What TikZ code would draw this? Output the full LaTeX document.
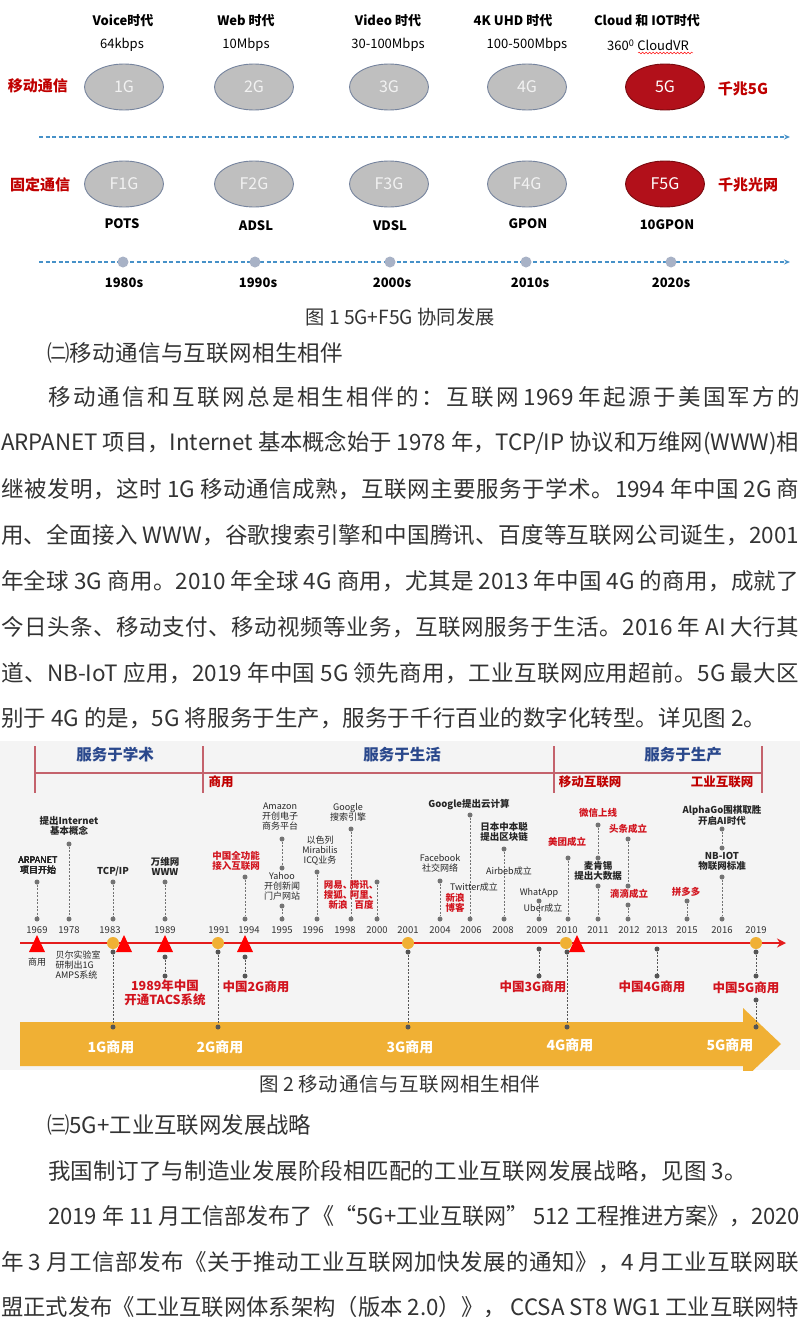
\documentclass[tikz,border=0pt]{standalone}
\usepackage{fontspec}
\setmainfont{Noto Sans CJK SC}
\usepackage{graphicx}
\usetikzlibrary{arrows.meta,shapes.geometric,decorations.pathmorphing,positioning}
\definecolor{gengray}{RGB}{191,191,191}
\definecolor{genline}{RGB}{118,132,158}
\definecolor{genred}{RGB}{178,16,26}
\definecolor{genredline}{RGB}{120,10,15}
\definecolor{labred}{RGB}{192,0,0}
\definecolor{dashblue}{RGB}{70,145,200}
\definecolor{dotgray}{RGB}{168,178,198}
\definecolor{figbg}{RGB}{244,244,244}
\definecolor{brack}{RGB}{196,98,108}
\definecolor{phaseblue}{RGB}{42,72,140}
\definecolor{lineRed}{RGB}{228,28,28}
\definecolor{gold}{RGB}{240,176,52}
\definecolor{stemgray}{RGB}{115,115,115}
\definecolor{stemdark}{RGB}{85,85,85}
\definecolor{evred}{RGB}{210,20,30}
% stretchable glue between CJK characters, used in \jline only
\newXeTeXintercharclass\cjkcls
\makeatletter
\count@="2E80
\loop\ifnum\count@<"A000 \XeTeXcharclass\count@=\cjkcls \advance\count@ by 1 \repeat
\count@="FF00
\loop\ifnum\count@<"FFF0 \XeTeXcharclass\count@=\cjkcls \advance\count@ by 1 \repeat
\makeatother
\XeTeXinterchartoks\cjkcls\cjkcls={\hskip0pt plus 1fil\relax}
\XeTeXinterchartoks\cjkcls 0={\hskip0pt plus 1fil\relax}
\XeTeXinterchartoks 0\cjkcls={\hskip0pt plus 1fil\relax}
\tikzset{>=stealth}
\newsavebox\linebox
\newcommand\jline[2]{\sbox\linebox{#2}%
  \ifdim\wd\linebox>#1\relax\resizebox{#1}{\height}{\usebox\linebox}%
  \else\makebox[#1][s]{\XeTeXinterchartokenstate=1 #2}\fi}
\newcommand\redtri[1]{\fill[red] (#1-8,952) -- (#1,935) -- (#1+8,952) -- cycle;}
\tikzset{
  gen/.style={ellipse, draw=genline, line width=0.9pt, fill=gengray,
    minimum width=79pt, minimum height=46pt, text=white!95!black,
    font=\fontsize{16}{16}\selectfont},
  gen5/.style={gen, fill=genred, draw=genredline, text=white},
  era/.style={font=\bfseries\fontsize{13}{13}\selectfont, inner sep=1pt},
  rate/.style={font=\fontsize{13}{13}\selectfont, inner sep=1pt},
  net/.style={font=\bfseries\fontsize{15}{15}\selectfont, text=labred},
  dashline/.style={dashblue, line width=1.3pt, dash pattern=on 4pt off 2.5pt,
    -{Stealth[length=6pt,width=5pt]}},
  body/.style={font=\fontsize{22.5}{24}\selectfont, inner sep=0pt, text=black!80},
  figcap/.style={font=\fontsize{19.5}{20}\selectfont, inner sep=0pt, text=black!80},
  phase/.style={font=\bfseries\fontsize{15.5}{16}\selectfont, text=phaseblue},
  stage/.style={font=\bfseries\fontsize{12.5}{13}\selectfont, text=labred},
  brackline/.style={brack, line width=1.8pt},
  yr/.style={font=\fontsize{9.5}{10}\selectfont, text=black!80, inner sep=1pt},
  dot/.style={circle, fill=stemgray, inner sep=0pt, minimum size=5pt},
  ddot/.style={dot, fill=stemdark},
  stem/.style={draw=stemgray, dash pattern=on 2pt off 1.5pt, line width=0.8pt},
  dstem/.style={stem, draw=stemdark},
  ev/.style={font=\fontsize{9}{10}\selectfont, align=center, text=black!85, inner sep=0.5pt},
  evb/.style={ev, font=\bfseries\fontsize{9.5}{10}\selectfont},
  evr/.style={evb, text=evred},
  big/.style={font=\bfseries\fontsize{12.5}{13.5}\selectfont, text=evred, align=center},
  golddot/.style={circle, fill=gold, inner sep=0pt, minimum size=12pt},
  bandtxt/.style={font=\bfseries\fontsize{14}{14}\selectfont, text=white}
}
\begin{document}
\begin{tikzpicture}[x=1pt,y=-1pt]
    \fill[white] (0,0) rectangle (800,1317);
    \useasboundingbox (0,0) rectangle (800,1317);
    % Figure 1
    \foreach \g/\x in {1/124,2/254,3/389,4/527}{
        \node[gen] (m\g) at (\x,87) {\g G};
        \node[gen] (f\g) at (\x,184) {F\g G};
    }
    \node[gen5] (m5) at (665,87) {5G};
    \node[gen5] (f5) at (665,184) {F5G};
    \node[era] (e1) at (123,21) {Voice时代};
    \node[rate] (r1) at (122,45) {64kbps};
    \node[era] (e2) at (246,21) {Web 时代};
    \node[rate] (r2) at (246,45) {10Mbps};
    \node[era] (e3) at (388,21) {Video 时代};
    \node[rate] (r3) at (388,45) {30-100Mbps};
    \node[era] (e4) at (513,21) {4K UHD 时代};
    \node[rate] (r4) at (527,45) {100-500Mbps};
    \node[era] (e5) at (647,21) {Cloud 和 IOT时代};
    \node[rate] (r5) at (648,45) {360\textsuperscript{0} CloudVR};
    \draw[red, decorate, decoration={snake, amplitude=0.9pt, segment length=3.5pt}]
        (638,53) -- (693,53);
    \node[net] (mob) at (38,86) {移动通信};
    \node[net] (fix) at (40,185) {固定通信};
    \node[net] (g5) at (743,89) {千兆5G};
    \node[net] (g5f) at (748,185) {千兆光网};
    \coordinate (a1) at (39,137);
    \coordinate (a2) at (790,137);
    \draw[dashline] (a1) -- (a2);
    \coordinate (b1) at (39,262);
    \coordinate (b2) at (790,262);
    \draw[dashline] (b1) -- (b2);
    \foreach \n/\t/\x/\y in {1/POTS/122/224,2/ADSL/256/226,3/VDSL/390/226,4/GPON/528/224,5/10GPON/667/225}
        \node[era] (o\n) at (\x,\y) {\t};
    \foreach \d/\x/\lx in {1980/123/124,1990/255/258,2000/390/392,2010/526/530,2020/671/671}{
        \node[circle, fill=dotgray, inner sep=0pt, minimum size=11pt] (c\d) at (\x,262) {};
        \node[era] (s\d) at (\lx,283) {\d s};
    }
    % text
    \node[figcap] (cap1) at (400,317) {\jline{189pt}{图 1 5G+F5G 协同发展}};
    \node[body, anchor=west] (hd1) at (47,353) {\jline{296pt}{㈡移动通信与互联网相生相伴}};
    \node[body, anchor=west] (t1) at (48,397) {\jline{752pt}{移动通信和互联网总是相生相伴的：互联网 1969 年起源于美国军方的}};
    \node[body, anchor=west] (t2) at (1,443) {\jline{798pt}{ARPANET 项目，Internet 基本概念始于 1978 年，TCP/IP 协议和万维网(WWW)相}};
    \node[body, anchor=west] (t3) at (1,489) {\jline{798pt}{继被发明，这时 1G 移动通信成熟，互联网主要服务于学术。1994 年中国 2G 商}};
    \node[body, anchor=west] (t4) at (1,535) {\jline{798pt}{用、全面接入 WWW，谷歌搜索引擎和中国腾讯、百度等互联网公司诞生，2001}};
    \node[body, anchor=west] (t5) at (1,581) {\jline{798pt}{年全球 3G 商用。2010 年全球 4G 商用，尤其是 2013 年中国 4G 的商用，成就了}};
    \node[body, anchor=west] (t6) at (1,627) {\jline{798pt}{今日头条、移动支付、移动视频等业务，互联网服务于生活。2016 年 AI 大行其}};
    \node[body, anchor=west] (t7) at (1,673) {\jline{798pt}{道、NB-IoT 应用，2019 年中国 5G 领先商用，工业互联网应用超前。5G 最大区}};
    \node[body, anchor=west] (t8) at (1,718) {\jline{765pt}{别于 4G 的是，5G 将服务于生产，服务于千行百业的数字化转型。详见图 2。}};
    % Figure 2
    \fill[figbg] (0,741) rectangle (800,1070);
    \begin{scope}
        \clip (0,741) rectangle (800,1070);
        \fill[gold] (20,1022) -- (743,1022) -- (743,1008) -- (781,1044)
            -- (743,1080) -- (743,1066) -- (20,1066) -- cycle;
    \end{scope}
    \draw[brackline] (35,773) -- (762,773);
    \foreach \x in {35,203,554,762}
        \draw[brackline] (\x,746) -- (\x,793);
    \node[phase] (ph1) at (115,755) {服务于学术};
    \node[phase] (ph2) at (402,755) {服务于生活};
    \node[phase] (ph3) at (683,755) {服务于生产};
    \node[stage] (st1) at (221,782) {商用};
    \node[stage] (st2) at (590,782) {移动互联网};
    \node[stage] (st3) at (722,782) {工业互联网};
    \coordinate (tl0) at (20,943);
    \coordinate (tl1) at (786,943);
    \draw[line width=2.2pt, lineRed, -{Stealth[length=9pt,width=9pt]}] (tl0) -- (tl1);
    \foreach \y/\x in {1969/37,1978/69,1983/110,1989/165,1991/219,1994/249,1995/282,1996/313,1998/345,2000/377,2001/408,2004/440,2006/471,2008/503,2009/537,2010/567,2011/598,2012/629,2013/657,2015/687,2016/722,2019/756}
        \node[yr] (y\y) at (\x,930) {\y};
    % stems above the line
    \foreach \n/\x/\ya/\yb in {69/37/882/919,78/69/844/919,83/113/882/919,89/165/882/919,94/245/877/919,95a/282/839/868,95b/282/906/919,96/317/872/919,98/351/829/919,00/377/882/919,04/440/881/919,06/470/815/919,08/504/849/919,09/539/901/919,10/568/858/919,11a/598/825/858,11b/598/886/919,12a/628/839/886,12b/628/905/919,15/687/901/919,16a/722/829/848,16b/722/877/919}{
        \node[dot] (u\n-t) at (\x,\ya) {};
        \node[dot] (u\n-b) at (\x,\yb) {};
        \draw[stem] (u\n-t) -- (u\n-b);
    }
    % stems below the line
    \foreach \n/\x/\ya/\yb in {83/113/952/1027,89/165/957/976,91/218/952/1027,94/245/957/976,01/408/952/1027,09/539/949/976,10/567/952/1027,13/657/949/976,19a/756/952/976,19b/756/1000/1027}{
        \node[ddot] (l\n-t) at (\x,\ya) {};
        \node[ddot] (l\n-b) at (\x,\yb) {};
        \draw[dstem] (l\n-t) -- (l\n-b);
    }
    \foreach \n/\x in {83/113,91/218,01/408,10/566,19/756}
        \node[golddot] (k\n) at (\x,943) {};
    \foreach \x in {37,124,165,245,577}
        \redtri{\x}
    % events
    \node[ev] (n69) at (38,866) {ARPANET\\项目开始};
    \node[evb] (n78) at (69,826) {提出Internet\\基本概念};
    \node[evb] (n83) at (113,871) {TCP/IP};
    \node[evb] (n89) at (165,866) {万维网\\WWW};
    \node[evr] (n94) at (236,861) {中国全功能\\接入互联网};
    \node[ev] (n95a) at (280,817) {Amazon\\开创电子\\商务平台};
    \node[ev] (n95b) at (282,886) {Yahoo\\开创新闻\\门户网站};
    \node[ev] (n96) at (320,851) {以色列\\Mirabilis\\ICQ业务};
    \node[ev] (n98) at (348,812) {Google\\搜索引擎};
    \node[evr] (n98a) at (338,895) {网易、\\搜狐、\\新浪};
    \node[evr] (n98b) at (364,895) {腾讯、\\阿里、\\百度};
    \node[ev] (n04) at (440,863) {Facebook\\社交网络};
    \node[evr] (n04b) at (455,903) {新浪\\博客};
    \node[evb] (n06) at (469,805) {Google提出云计算};
    \node[ev] (n06b) at (474,887) {Twitter成立};
    \node[evb] (n08) at (504,832) {日本中本聪\\提出区块链};
    \node[ev] (n08b) at (509,871) {Airbeb成立};
    \node[ev] (n09) at (539,893) {WhatApp};
    \node[ev] (n09b) at (543,908) {Uber成立};
    \node[evr] (n10) at (567,842) {美团成立};
    \node[evr] (n11) at (598,813) {微信上线};
    \node[evb] (n11b) at (598,871) {麦肯锡\\提出大数据};
    \node[evr] (n12) at (628,829) {头条成立};
    \node[evr] (n12b) at (629,894) {滴滴成立};
    \node[evr] (n15) at (686,892) {拼多多};
    \node[evb] (n16) at (722,815) {AlphaGo围棋取胜\\开启AI时代};
    \node[evb] (n16b) at (722,861) {NB-IOT\\物联网标准};
    \node[ev] (b69) at (37,962) {商用};
    \node[ev, align=left, anchor=west] (bell) at (55,965) {贝尔实验室\\研制出1G\\AMPS系统};
    \node[big] (c89) at (165,993) {1989年中国\\开通TACS系统};
    \node[big] (c94) at (256,987) {中国2G商用};
    \node[big] (c09) at (533,987) {中国3G商用};
    \node[big] (c13) at (652,987) {中国4G商用};
    \node[big] (c19) at (746,988) {中国5G商用};
    \foreach \n/\x/\y in {1/111/1047,2/220/1047,3/410/1047,4/570/1045,5/730/1045}
        \node[bandtxt] (w\n) at (\x,\y) {\n G商用};
    % text below
    \node[figcap] (cap2) at (400,1084) {\jline{281pt}{图 2 移动通信与互联网相生相伴}};
    \node[body, anchor=west] (hd2) at (47,1125) {\jline{264pt}{㈢5G+工业互联网发展战略}};
    \node[body, anchor=west] (v1) at (48,1171) {\jline{699pt}{我国制订了与制造业发展阶段相匹配的工业互联网发展战略，见图 3。}};
    \node[body, anchor=west] (v2) at (48,1216) {\jline{752pt}{2019 年 11 月工信部发布了《“5G+工业互联网” 512 工程推进方案》，2020}};
    \node[body, anchor=west] (v3) at (1,1262) {\jline{798pt}{年 3 月工信部发布《关于推动工业互联网加快发展的通知》，4 月工业互联网联}};
    \node[body, anchor=west] (v4) at (1,1307) {\jline{798pt}{盟正式发布《工业互联网体系架构（版本 2.0）》， CCSA ST8 WG1 工业互联网特}};
\end{tikzpicture}
\end{document}
